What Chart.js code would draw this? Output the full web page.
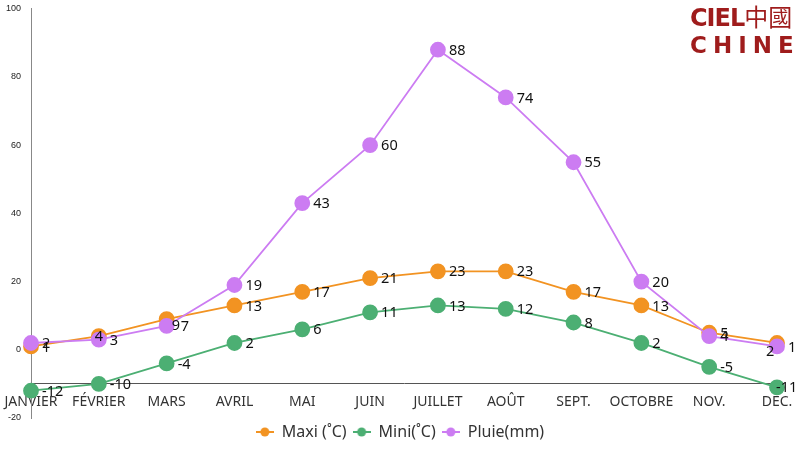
<!DOCTYPE html>
<html>
<head>
<meta charset="utf-8">
<script src="https://cdn.jsdelivr.net/npm/chart.js@4/dist/chart.umd.min.js"></script>
<style>
html,body{margin:0;padding:0;background:#fff;}
#wrap{position:relative;width:800px;height:450px;}
#logo{position:absolute;left:690px;top:4px;color:#9f1c1c;font-family:"DejaVu Sans",sans-serif;font-weight:bold;line-height:1;}
#logo .l1{font-size:24px;letter-spacing:-1px;white-space:nowrap;}
#logo .l1 span{font-family:"Noto Sans CJK TC",sans-serif;font-weight:400;font-size:24px;letter-spacing:0;}
#logo .l2{font-size:23px;letter-spacing:6px;margin-top:4px;white-space:nowrap;}
</style>
</head>
<body>
<div id="wrap">
<canvas id="c" width="800" height="450"></canvas>
<div id="logo"><div class="l1">CIEL<span>中國</span></div><div class="l2">CHINE</div></div>
</div>
<script>
const categories = ["JANVIER","FÉVRIER","MARS","AVRIL","MAI","JUIN","JUILLET","AOÛT","SEPT.","OCTOBRE","NOV.","DÉC."];
const maxiValues = [1,4,9,13,17,21,23,23,17,13,5,2];
const miniValues = [-12,-10,-4,2,6,11,13,12,8,2,-5,-11];
const pluieValues = [2,3,7,19,43,60,88,74,55,20,4,1];
const seriesNames = ["Maxi (˚C)","Mini(˚C)","Pluie(mm)"];
const colors = ["#f29322","#4caf73","#cc7cf2"];

function legendIcon(color){
  const c=document.createElement('canvas');c.width=18;c.height=12;
  const x=c.getContext('2d');
  x.strokeStyle=color;x.lineWidth=2;x.beginPath();x.moveTo(0,6);x.lineTo(18,6);x.stroke();
  x.fillStyle=color;x.beginPath();x.arc(9,6,4.5,0,Math.PI*2);x.fill();
  return c;
}

// label placement nudges (relative offsets, keyed "dataset:index")
const labelNudges = {"0:1":[-15,0],"0:2":[-6,6],"2:2":[3,0],"0:11":[-22,8],"1:11":[-12,0]};

const dataLabels = {
  id:'dataLabels',
  afterDatasetsDraw(chart){
    const ctx=chart.ctx;
    ctx.save();
    ctx.font='14.5px "Noto Sans", sans-serif';
    ctx.fillStyle='#111';
    ctx.textAlign='left';
    ctx.textBaseline='middle';
    chart.data.datasets.forEach((ds,i)=>{
      const meta=chart.getDatasetMeta(i);
      meta.data.forEach((pt,j)=>{
        const n=labelNudges[i+':'+j]||[0,0];
        ctx.fillText(String(ds.data[j]), pt.x+11+n[0], pt.y+1+n[1]);
      });
    });
    ctx.restore();
  }
};

const mk=(label,data,color,order)=>({
  label,data,borderColor:color,backgroundColor:color,pointBackgroundColor:color,
  pointBorderColor:color,pointRadius:7,pointHoverRadius:7,borderWidth:1.8,tension:0,order
});

new Chart(document.getElementById('c'),{
  type:'line',
  data:{labels:categories,datasets:[
    mk(seriesNames[0],maxiValues,colors[0],1),
    mk(seriesNames[1],miniValues,colors[1],2),
    mk(seriesNames[2],pluieValues,colors[2],0)
  ]},
  options:{
    responsive:false,animation:false,
    layout:{padding:0},
    scales:{
      x:{
        position:{y:-10},
        offset:false,
        grid:{display:false,drawTicks:false},
        border:{display:true,color:'#555',width:1},
        ticks:{autoSkip:false,maxRotation:0,padding:10,color:'#333',font:{family:'"Noto Sans", sans-serif',size:14}},
        afterFit:s=>{s.height=0;s.paddingLeft=0;s.paddingRight=23;}
      },
      y:{
        min:-20,max:100,
        grid:{display:false,drawTicks:false},
        border:{display:true,color:'#888',width:1},
        ticks:{stepSize:20,padding:10,color:'#222',font:{family:'"Liberation Sans", Arial, sans-serif',size:9}},
        afterFit:s=>{s.width=31;s.paddingTop=6;s.paddingBottom=0;}
      }
    },
    plugins:{
      tooltip:{enabled:false},
      legend:{
        position:'bottom',
        labels:{
          usePointStyle:true,pointStyleWidth:18,boxHeight:12,padding:6,color:'#333',
          font:{family:'"Noto Sans", sans-serif',size:16},
          sort:(a,b)=>a.datasetIndex-b.datasetIndex,
          generateLabels:(chart)=>Chart.defaults.plugins.legend.labels.generateLabels(chart).map(it=>{
            it.pointStyle=legendIcon(colors[it.datasetIndex]);return it;})
        }
      }
    }
  },
  plugins:[dataLabels]
});
</script>
</body>
</html>
